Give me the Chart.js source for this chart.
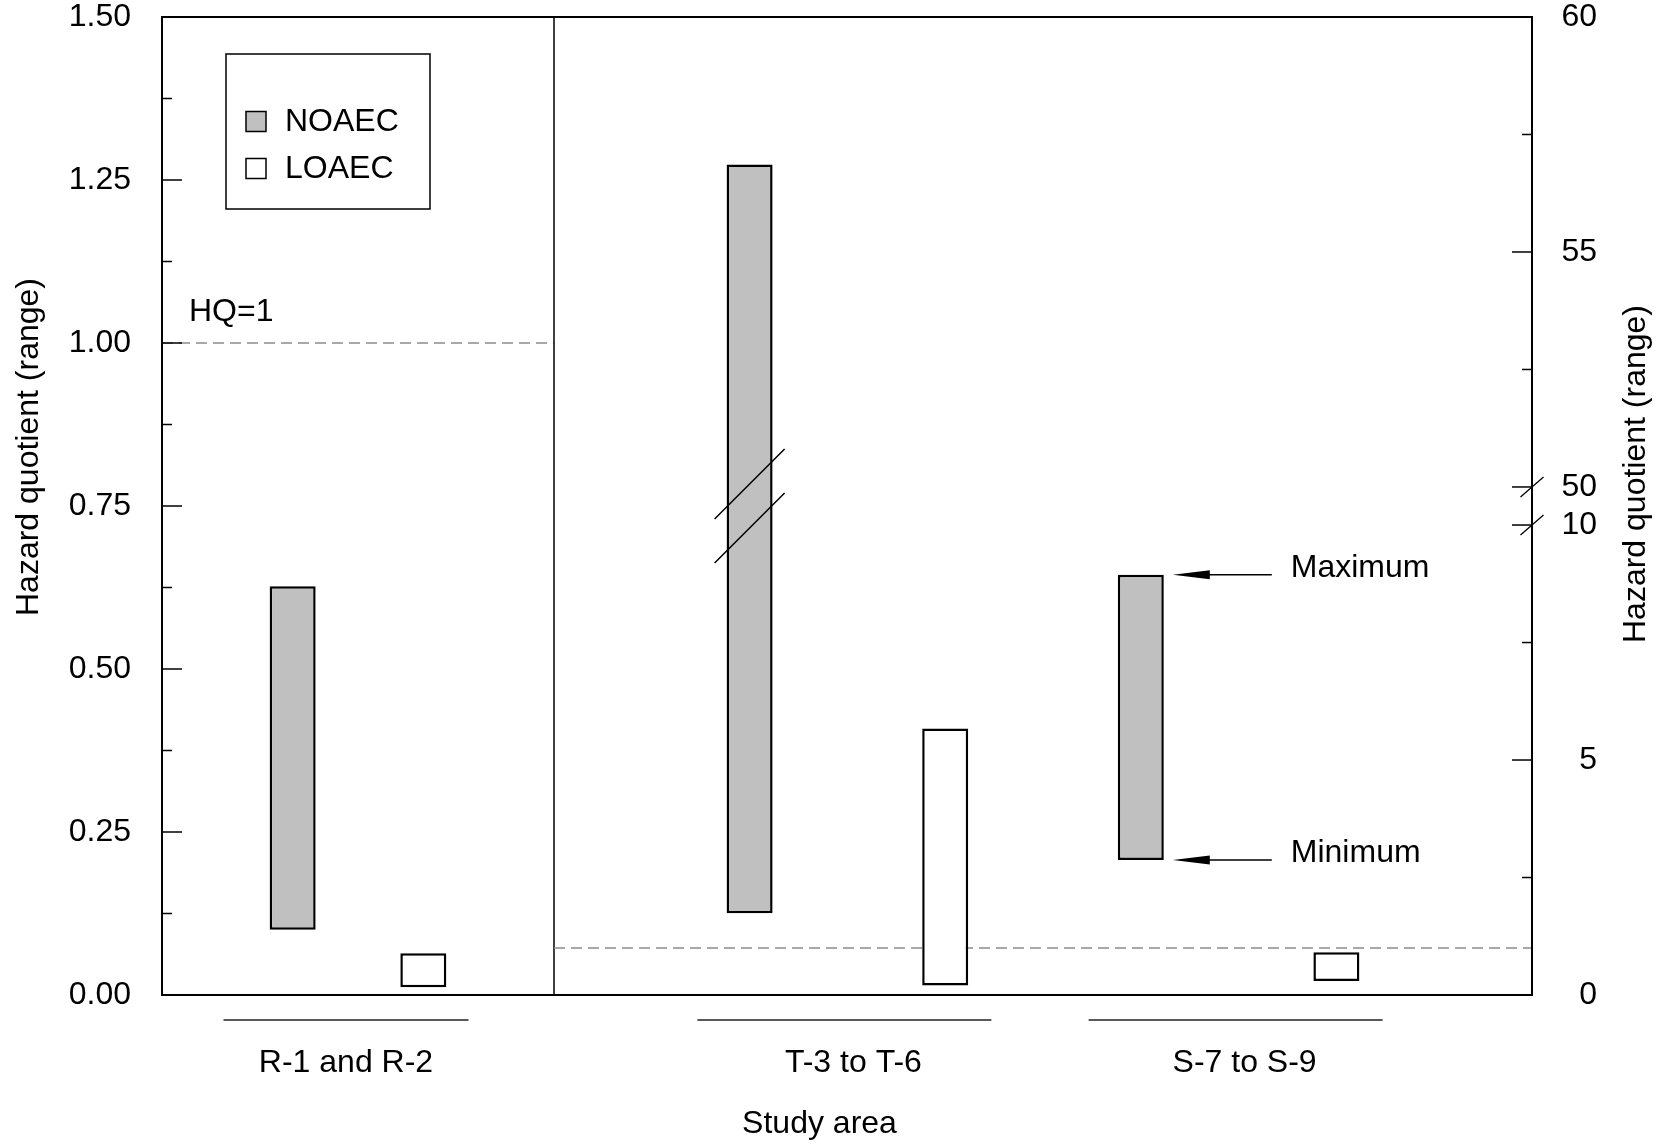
<!DOCTYPE html>
<html>
<head>
<meta charset="utf-8">
<script src="https://cdn.jsdelivr.net/npm/chart.js@4.4.1/dist/chart.umd.min.js"></script>
<style>
html,body{margin:0;padding:0;background:#fff;}
#wrap{position:relative;width:1667px;height:1148px;background:#fff;}
#wrap canvas{position:absolute;top:0;}
#cL{left:0;}
#cR{left:554px;}
</style>
</head>
<body>
<div id="wrap">
  <canvas id="cL" width="556" height="1148"></canvas>
  <canvas id="cR" width="1113" height="1148"></canvas>
</div>
<script>
// ---------------- data ----------------
const studyAreas = ['R-1 and R-2', 'T-3 to T-6', 'S-7 to S-9'];
const noaecMin = [0.10, 1.74, 2.87];
const noaecMax = [0.627, 56.86, 8.94];
const loaecMin = [0.012, 0.20, 0.30];
const loaecMax = [0.064, 5.67, 0.91];
const leftTickStep = 0.125;          // left axis (0–1.5), labels every 0.25
const rightAxisTicks = [0, 2.5, 5, 7.5, 10, 50, 52.5, 55, 57.5, 60];
const hqThreshold = 1;
const axisBreak = [10, 50];          // right axis jumps from 10 to 50
const seriesNames = ['NOAEC', 'LOAEC'];
const leftIdx = [0];                 // areas on the left (0–1.5) panel
const rightIdx = [1, 2];             // areas on the right (broken 0–60) panel

// ---------------- style ----------------
const FONT = '"Liberation Sans", Arial, Helvetica, sans-serif';
const FS = 32;
const INK = '#000';
const GREY = '#c0c0c0';
const BREAK_GAP = 0.81;              // display units between 10 and 50

Chart.defaults.font.family = FONT;
Chart.defaults.font.size = FS;
Chart.defaults.color = INK;

// ---------------- broken linear scale ----------------
class BrokenLinearScale extends Chart.LinearScale {
  toDisplay(v) {
    const [lo, hi] = axisBreak;
    if (v <= lo) return v;
    if (v >= hi) return v - hi + lo + BREAK_GAP;
    return lo + (v - lo) / (hi - lo) * BREAK_GAP;
  }
  fromDisplay(d) {
    const [lo, hi] = axisBreak;
    if (d <= lo) return d;
    if (d >= lo + BREAK_GAP) return d - lo - BREAK_GAP + hi;
    return lo + (d - lo) / BREAK_GAP * (hi - lo);
  }
  buildTicks() {
    return rightAxisTicks.map(value => ({value}));
  }
  getPixelForValue(value) {
    const d0 = this.toDisplay(this.min), d1 = this.toDisplay(this.max);
    return this.getPixelForDecimal((this.toDisplay(value) - d0) / (d1 - d0));
  }
  getValueForPixel(pixel) {
    const d0 = this.toDisplay(this.min), d1 = this.toDisplay(this.max);
    return this.fromDisplay(d0 + this.getDecimalForPixel(pixel) * (d1 - d0));
  }
}
BrokenLinearScale.id = 'brokenLinear';
BrokenLinearScale.defaults = {};
Chart.register(BrokenLinearScale);

// ---------------- datasets ----------------
function mkSet(name, mins, maxs, idx, catPct) {
  return {
    label: name,
    data: idx.map(i => ({x: studyAreas[i], y: [mins[i], maxs[i]]})),
    backgroundColor: name === seriesNames[0] ? GREY : '#ffffff',
    borderColor: INK,
    borderWidth: 2.5,
    borderSkipped: false,
    categoryPercentage: catPct,
    barPercentage: 1,
    maxBarThickness: 46
  };
}

// ---------------- helpers ----------------
function seg(ctx, x1, y1, x2, y2) {
  ctx.beginPath(); ctx.moveTo(x1, y1); ctx.lineTo(x2, y2); ctx.stroke();
}
function vtext(ctx, txt, x, y) {
  ctx.save(); ctx.translate(x, y); ctx.rotate(-Math.PI / 2);
  ctx.fillText(txt, 0, 0); ctx.restore();
}
function underline(ctx, sc, a, w, dx) {
  sc.ticks.forEach((t, i) => {
    if (!t.label || !String(t.label).trim()) return;
    const cx = sc.getPixelForTick(i) + dx;
    seg(ctx, cx - w / 2, a.bottom + 25, cx + w / 2, a.bottom + 25);
  });
}

const decor = {
  id: 'decor',
  beforeDatasetsDraw(chart, args, opts) {
    const {ctx, chartArea: a, scales: {x, y}} = chart;
    ctx.save();
    ctx.strokeStyle = '#8c8c8c'; ctx.lineWidth = 1.5; ctx.setLineDash([11, 6]);
    const yh = y.getPixelForValue(hqThreshold);
    seg(ctx, a.left, yh, a.right, yh);
    ctx.setLineDash([]);
    if (opts.side === 'L') {
      ctx.fillStyle = INK; ctx.font = `${FS}px ${FONT}`;
      ctx.textAlign = 'left'; ctx.textBaseline = 'middle';
      ctx.fillText('HQ=' + hqThreshold, a.left + 27, yh - 31);
    }
    ctx.restore();
  },
  afterDatasetsDraw(chart, args, opts) {
    const {ctx, chartArea: a, scales: {x, y}} = chart;
    const L = opts.side === 'L';
    ctx.save();
    ctx.strokeStyle = INK; ctx.fillStyle = INK;
    ctx.font = `${FS}px ${FONT}`;
    // frame
    ctx.lineWidth = 2;
    seg(ctx, a.left - (L ? 1 : 0), a.top, a.right + (L ? 0 : 1), a.top);
    seg(ctx, a.left - (L ? 1 : 0), a.bottom, a.right + (L ? 0 : 1), a.bottom);
    if (L) {
      seg(ctx, a.left, a.top, a.left, a.bottom);
      ctx.lineWidth = 1.5;
      seg(ctx, a.right, a.top, a.right, a.bottom);   // panel separator
    } else {
      seg(ctx, a.right, a.top, a.right, a.bottom);
    }
    // inward tick marks
    ctx.lineWidth = 1.5;
    y.ticks.forEach(t => {
      const py = y.getPixelForValue(t.value);
      const len = t.label ? 20 : 10;
      if (L) seg(ctx, a.left, py, a.left + len, py);
      else seg(ctx, a.right - len, py, a.right, py);
    });
    if (L) {
      // legend box
      const bx = a.left + 64, by = a.top + 37, bw = 204, bh = 155;
      ctx.lineWidth = 1.5;
      ctx.strokeRect(bx, by, bw, bh);
      ctx.textAlign = 'left'; ctx.textBaseline = 'middle';
      chart.data.datasets.forEach((ds, i) => {
        const cy = by + 67.5 + i * 47;
        ctx.fillStyle = ds.backgroundColor;
        ctx.fillRect(bx + 20, cy - 10, 20, 20);
        ctx.strokeRect(bx + 20, cy - 10, 20, 20);
        ctx.fillStyle = INK;
        ctx.fillText(ds.label, bx + 59, cy + 1);
      });
    } else {
      // axis break marks on right axis
      ctx.lineWidth = 1.3;
      axisBreak.forEach(v => {
        const py = y.getPixelForValue(v);
        seg(ctx, a.right - 11.5, py + 10, a.right + 11.5, py - 10);
      });
      // break marks across bars spanning the break
      const metaNo = chart.getDatasetMeta(0);
      ctx.lineWidth = 1.5;
      const mid = (y.getPixelForValue(axisBreak[0]) + y.getPixelForValue(axisBreak[1])) / 2;
      rightIdx.forEach((ai, k) => {
        if (noaecMin[ai] < axisBreak[0] && noaecMax[ai] > axisBreak[1]) {
          const bar = metaNo.data[k];
          [mid - 22, mid + 22].forEach(py => seg(ctx, bar.x - 35, py + 35, bar.x + 35, py - 35));
        }
      });
      // Maximum / Minimum arrows on last NOAEC bar
      const last = rightIdx.length - 1;
      const bar = metaNo.data[last];
      const ai = rightIdx[last];
      const rx = bar.x + bar.width / 2;
      ctx.textAlign = 'left'; ctx.textBaseline = 'middle';
      [[noaecMax[ai], 'Maximum'], [noaecMin[ai], 'Minimum']].forEach(([v, txt]) => {
        const py = y.getPixelForValue(v);
        ctx.lineWidth = 1.5;
        seg(ctx, rx + 40, py, rx + 108, py);
        ctx.beginPath();
        ctx.moveTo(rx + 9, py); ctx.lineTo(rx + 46, py - 4.5); ctx.lineTo(rx + 46, py + 4.5);
        ctx.closePath(); ctx.fill();
        ctx.fillText(txt, rx + 127, py - 7);
      });
    }
    ctx.restore();
  },
  afterDraw(chart, args, opts) {
    const {ctx, chartArea: a, scales: {x}} = chart;
    ctx.save();
    ctx.fillStyle = INK; ctx.strokeStyle = '#222';
    ctx.font = `${FS}px ${FONT}`;
    ctx.textAlign = 'center'; ctx.textBaseline = 'middle';
    ctx.lineWidth = 1.5;
    if (opts.side === 'L') {
      vtext(ctx, 'Hazard quotient (range)', 29, a.top + 430);
      underline(ctx, x, a, 245, -12);
    } else {
      vtext(ctx, 'Hazard quotient (range)', a.right + 104, a.top + 457);
      ctx.fillText('Study area', a.left + 265.5, a.bottom + 129);
      underline(ctx, x, a, 294, -3);
    }
    ctx.restore();
  }
};

// ---------------- charts ----------------
const xTicks = (labelOffset) => ({autoSkip: false, maxRotation: 0, minRotation: 0, padding: 41,
  font: {size: FS}, color: INK, labelOffset});
const noVertPad = s => { s.paddingTop = 0; s.paddingBottom = 0; };
const common = {
  responsive: false,
  animation: false,
  events: [],
};

// left panel: R-1 and R-2, scale 0–1.5
new Chart(document.getElementById('cL'), {
  type: 'bar',
  data: {datasets: [
    mkSet(seriesNames[0], noaecMin, noaecMax, leftIdx, 2 / 3),
    mkSet(seriesNames[1], loaecMin, loaecMax, leftIdx, 2 / 3)
  ]},
  options: Object.assign({}, common, {
    layout: {padding: {top: 17, left: 0, right: 2, bottom: 0}},
    plugins: {legend: {display: false}, tooltip: {enabled: false}, decor: {side: 'L'}},
    scales: {
      x: {
        type: 'category', labels: leftIdx.map(i => studyAreas[i]), position: 'bottom', offset: true,
        grid: {display: false}, border: {display: false},
        ticks: xTicks(-12),
        afterFit: s => { s.height = 153; }
      },
      y: {
        type: 'linear', position: 'left', min: 0, max: 1.5,
        grid: {display: false, drawTicks: false}, border: {display: false},
        ticks: {
          stepSize: leftTickStep, autoSkip: false, padding: 31, font: {size: FS}, color: INK,
          callback: v => Math.abs(v / 0.25 - Math.round(v / 0.25)) < 1e-9 ? v.toFixed(2) : ''
        },
        afterFit: s => { s.width = 162; noVertPad(s); }
      }
    }
  }),
  plugins: [decor]
});

// right panel: T-3 to T-6 and S-7 to S-9, broken scale 0–10 / 50–60
const rightSlots = ['', studyAreas[rightIdx[0]], ' ', studyAreas[rightIdx[1]], '  '];
new Chart(document.getElementById('cR'), {
  type: 'bar',
  data: {datasets: [
    mkSet(seriesNames[0], noaecMin, noaecMax, rightIdx, 2),
    mkSet(seriesNames[1], loaecMin, loaecMax, rightIdx, 2)
  ]},
  options: Object.assign({}, common, {
    layout: {padding: {top: 17, left: 0, right: 70, bottom: 0}},
    plugins: {legend: {display: false}, tooltip: {enabled: false}, decor: {side: 'R'}},
    scales: {
      x: {
        type: 'category', labels: rightSlots, position: 'bottom', offset: true,
        grid: {display: false}, border: {display: false},
        ticks: xTicks(6),
        afterFit: s => { s.height = 153; }
      },
      y: {
        type: 'brokenLinear', position: 'right', min: 0, max: 60,
        grid: {display: false, drawTicks: false}, border: {display: false},
        ticks: {
          autoSkip: false, padding: 47, crossAlign: 'far', font: {size: FS}, color: INK,
          callback: v => v % 5 === 0 ? String(v) : ''
        },
        afterFit: s => { s.width = 65; noVertPad(s); }
      }
    }
  }),
  plugins: [decor]
});
</script>
</body>
</html>
